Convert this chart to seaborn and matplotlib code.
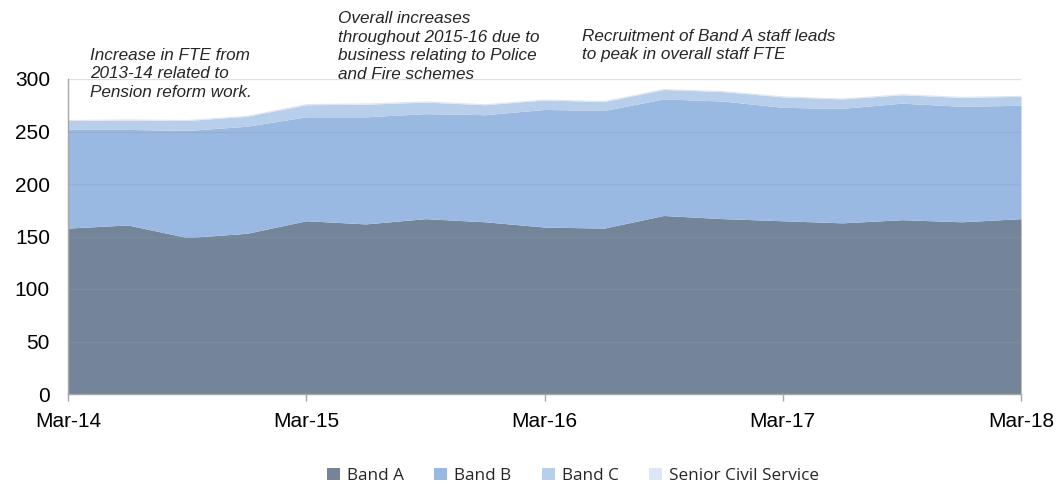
import matplotlib
matplotlib.use("Agg")
import matplotlib.pyplot as plt
import seaborn as sns
from matplotlib.patches import Patch

quarters = ["Mar-14", "Jun-14", "Sep-14", "Dec-14", "Mar-15", "Jun-15", "Sep-15", "Dec-15",
            "Mar-16", "Jun-16", "Sep-16", "Dec-16", "Mar-17", "Jun-17", "Sep-17", "Dec-17", "Mar-18"]
band_a = [158, 161, 149, 153, 165, 162, 167, 164, 159, 158, 170, 167, 165, 163, 166, 164, 167]
band_b = [94, 91, 102, 102, 99, 102, 100, 102, 112, 112, 111, 112, 108, 109, 111, 110, 108]
band_c = [8.5, 9, 9.5, 9.5, 11.5, 12, 11, 9.5, 9, 8.5, 9, 9, 10, 9, 8, 8.5, 8.5]
scs = [1, 1, 1, 1, 1.2, 1.2, 1.2, 1, 1, 1, 1, 1, 1, 1, 1, 1, 1]
series_names = ["Band A", "Band B", "Band C", "Senior Civil Service"]
tick_labels = ["Mar-14", "Mar-15", "Mar-16", "Mar-17", "Mar-18"]

sns.set_theme(style="white")
plt.rcParams['font.family'] = ['Liberation Sans', 'DejaVu Sans']

colors = ["#748599", "#99b9e3", "#b8cfec", "#dce6f4"]
palette = sns.color_palette(colors)

fig = plt.figure(figsize=(10.57, 4.84), dpi=100)
ax = fig.add_axes([68/1057, 90/484, (1021-68)/1057, (394-79)/484])

x = list(range(len(quarters)))
ax.stackplot(x, band_a, band_b, band_c, scs, colors=palette, linewidth=0)

ax.set_xlim(0, len(quarters) - 1)
ax.set_ylim(0, 300)
ax.set_yticks(range(0, 301, 50))
tick_pos = [quarters.index(t) for t in tick_labels]
ax.set_xticks(tick_pos)
ax.set_xticklabels(tick_labels)

ax.set_axisbelow(False)
ax.yaxis.grid(True, color="#8a9bb0", alpha=0.3, linewidth=1)
ax.xaxis.grid(False)

for s in ["top", "right"]:
    ax.spines[s].set_visible(False)
for s in ["left", "bottom"]:
    ax.spines[s].set_color("#a6a6a6")
    ax.spines[s].set_linewidth(1)
ax.tick_params(axis="both", which="major", direction="out", length=5, width=1,
               color="#a6a6a6", labelsize=15, labelcolor="#000000")
ax.tick_params(axis="y", pad=8)
ax.tick_params(axis="x", pad=8, bottom=True)

ann_kw = dict(fontsize=12.3, style="italic", color="#262626", va="center", ha="left",
              linespacing=1.28)
fig.text(90/1057, 1 - 74/484, "Increase in FTE from\n2013-14 related to\nPension reform work.", **ann_kw)
fig.text(338/1057, 1 - 46.5/484, "Overall increases\nthroughout 2015-16 due to\nbusiness relating to Police\nand Fire schemes", **ann_kw)
fig.text(582/1057, 1 - 45.5/484, "Recruitment of Band A staff leads\nto peak in overall staff FTE", **ann_kw)

handles = [Patch(facecolor=c, edgecolor="none") for c in colors]
fig.legend(handles, series_names, loc="center", bbox_to_anchor=(573/1057, 1 - 476/484),
           ncol=4, frameon=False, handlelength=0.75, handleheight=0.75, handletextpad=0.4,
           columnspacing=1.8, prop={"family": "Open Sans", "size": 12.3})

fig.savefig("out.png", dpi=100)
